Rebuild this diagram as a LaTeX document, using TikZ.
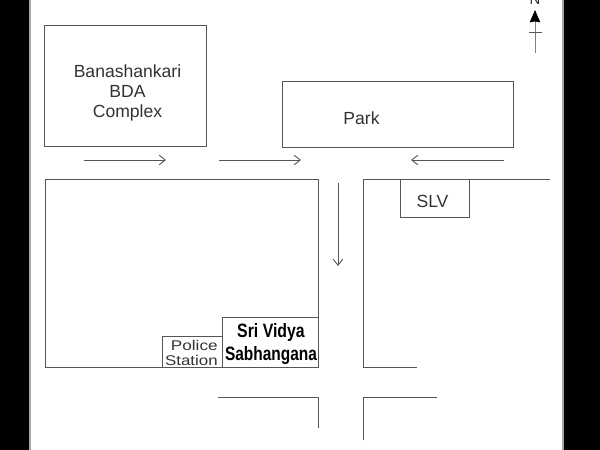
\documentclass[tikz,border=0pt]{standalone}
\usepackage{fontspec}
\setmainfont{Liberation Sans}
\usetikzlibrary{arrows,arrows.meta}
\definecolor{inkline}{RGB}{85,85,85}
\definecolor{inktext}{RGB}{50,50,50}
\tikzset{
  block/.style={draw=inkline, line width=0.5pt, inner sep=0pt},
  road/.style={draw=inkline, line width=0.5pt},
  dirarrow/.style={road, -{Straight Barb[length=3.5pt,width=5.5pt]}},
  place/.style={text=inktext, font=\fontsize{10}{12}\selectfont, inner sep=0pt, align=center}
}
\begin{document}
\begin{tikzpicture}[x=0.02cm,y=-0.02cm]
\useasboundingbox (0,0) rectangle (600,450);
% Black side bands
\fill[black] (0,0) rectangle (29,450);
\fill[black] (563,0) rectangle (600,450);
\fill[gray!70] (29,0) rectangle (31,450);
\fill[gray!70] (562,0) rectangle (564,450);

% Road edges
\draw[road] (45,179) rectangle (318,367);
\draw[road] (550,179) -- (363,179) -- (363,367) -- (417,367);
\draw[road] (218,397) -- (318,397) -- (318,428);
\draw[road] (363,440) -- (363,397) -- (437,397);

% Buildings
\node[block, minimum width=162*0.02cm, minimum height=121*0.02cm] (complex) at (125.5,85.5) {};
\node[block, minimum width=231*0.02cm, minimum height=66*0.02cm] (park) at (397.5,114) {};
\node[block, minimum width=69*0.02cm, minimum height=38*0.02cm] (slv) at (434.5,198) {};
\node[block, minimum width=60*0.02cm, minimum height=31*0.02cm] (police) at (192,351.5) {};
\node[block, minimum width=96*0.02cm, minimum height=50*0.02cm] (vidya) at (270,342) {};

% Labels
\node[place, text height=9pt, text depth=2pt] (complexa) at (127.5,71) {Banashankari};
\node[place, text height=9pt, text depth=2pt] (complexb) at (127.5,91) {BDA};
\node[place, text height=9pt, text depth=2pt] (complexc) at (127.5,111) {Complex};
\node[place] (parklabel) at (361.5,118) {Park};
\node[place] (slvlabel) at (432.5,201) {SLV};
\node[place, anchor=east, align=right, font=\fontsize{8}{8.4}\selectfont] (policelabel) at (218,353) {\scalebox{1.22}[1]{Police}\\\scalebox{1.2}[1]{Station}};
\node[place, font=\fontsize{11}{13}\selectfont\bfseries, text=black] (vidyalabel) at (271,344) {\scalebox{0.82}[1]{Sri Vidya}\\\scalebox{0.8}[1]{Sabhangana}};

% Traffic direction
\coordinate (ea) at (84,160);
\coordinate (eb) at (166,160);
\coordinate (ec) at (219,160);
\coordinate (ed) at (301,160);
\coordinate (wa) at (504,160);
\coordinate (wb) at (411,160);
\coordinate (sa) at (338,183);
\coordinate (sb) at (338,266);
\draw[dirarrow] (ea) -- (eb);
\draw[dirarrow] (ec) -- (ed);
\draw[dirarrow] (wa) -- (wb);
\draw[dirarrow] (sa) -- (sb);

% North mark
\node[place, font=\fontsize{8.5}{10}\selectfont] (north) at (535,-0.5) {N};
\coordinate (na) at (535,53);
\coordinate (nb) at (535,10);
\coordinate (nc) at (529,32);
\coordinate (nd) at (542,32);
\draw[road, -{Stealth[length=7pt,width=6pt,inset=0.5pt,black]}, black!50] (na) -- (nb);
\draw[road] (nc) -- (nd);
\end{tikzpicture}
\end{document}
